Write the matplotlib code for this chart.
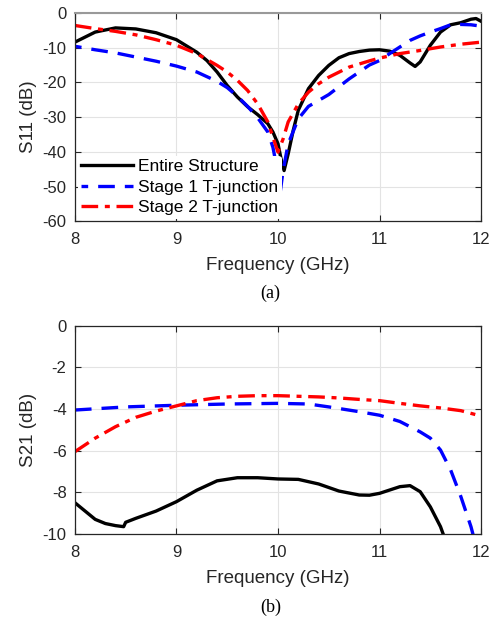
import numpy as np
import matplotlib.pyplot as plt

plt.rcParams['font.family'] = ['Liberation Sans', 'DejaVu Sans']
plt.rcParams['axes.unicode_minus'] = False

# S11 (dB)
f_s11_entire = [8.0, 8.2, 8.4, 8.6, 8.8, 9.0, 9.2, 9.3, 9.4, 9.5, 9.6, 9.7, 9.8, 9.9, 9.95,
                10.0, 10.03, 10.06, 10.1, 10.15, 10.2, 10.3, 10.4, 10.5, 10.6, 10.7, 10.8,
                10.9, 11.0, 11.1, 11.2, 11.3, 11.35, 11.4, 11.5, 11.6, 11.7, 11.8, 11.9,
                11.95, 12.0]
s11_entire = [-8.4, -5.5, -4.3, -4.6, -5.7, -7.7, -11.3, -13.7, -17.0, -20.9, -24.2, -27.0,
              -29.3, -31.9, -34.3, -37.7, -42.0, -45.4, -40.6, -33.8, -28.0, -21.8, -18.0,
              -15.1, -12.9, -11.7, -11.1, -10.7, -10.6, -11.0, -12.2, -14.4, -15.4, -14.1,
              -9.3, -5.5, -3.4, -2.8, -1.8, -1.6, -2.4]

f_s11_stage1 = [8.0, 8.2, 8.4, 8.6, 8.8, 9.0, 9.2, 9.4, 9.5, 9.6, 9.7, 9.8, 9.9, 9.95, 10.0,
                10.02, 10.05, 10.1, 10.2, 10.3, 10.5, 10.7, 10.9, 11.0, 11.1, 11.2, 11.3,
                11.4, 11.5, 11.6, 11.7, 11.8, 11.9, 12.0]
s11_stage1 = [-9.6, -10.6, -11.5, -12.7, -13.9, -15.3, -17.0, -19.7, -21.5, -24.0, -26.9,
              -30.2, -34.3, -38.7, -46.3, -52.0, -45.4, -37.7, -30.5, -26.9, -23.5, -19.0,
              -15.0, -13.7, -11.7, -9.8, -7.9, -6.6, -5.5, -4.5, -3.4, -3.3, -3.4, -3.8]

f_s11_stage2 = [8.0, 8.2, 8.4, 8.6, 8.8, 9.0, 9.2, 9.4, 9.5, 9.6, 9.7, 9.8, 9.9, 9.95, 10.0,
                10.05, 10.1, 10.2, 10.3, 10.4, 10.5, 10.7, 10.9, 11.0, 11.2, 11.4, 11.6,
                11.8, 12.0]
s11_stage2 = [-3.6, -4.5, -5.3, -6.3, -7.7, -9.3, -11.7, -15.1, -17.0, -19.4, -22.3, -26.2,
              -31.4, -35.8, -40.1, -36.3, -31.4, -26.2, -22.8, -20.4, -18.5, -15.6, -13.8,
              -13.0, -11.7, -10.8, -9.8, -9.0, -8.4]

# S21 (dB)
f_s21_entire = [8.0, 8.1, 8.2, 8.3, 8.4, 8.48, 8.5, 8.6, 8.8, 9.0, 9.2, 9.4, 9.6, 9.8, 10.0,
                10.2, 10.4, 10.6, 10.8, 10.9, 11.0, 11.2, 11.3, 11.4, 11.5, 11.6, 11.7]
s21_entire = [-8.5, -8.9, -9.3, -9.5, -9.6, -9.65, -9.44, -9.25, -8.9, -8.45, -7.9, -7.45,
              -7.3, -7.3, -7.36, -7.38, -7.6, -7.94, -8.13, -8.14, -8.05, -7.73, -7.68,
              -7.97, -8.7, -9.65, -11.0]

f_s21_stage1 = [8.0, 8.5, 9.0, 9.5, 10.0, 10.3, 10.5, 10.8, 11.0, 11.2, 11.4, 11.5, 11.6,
                11.7, 11.8, 11.9, 12.0]
s21_stage1 = [-4.05, -3.9, -3.82, -3.76, -3.73, -3.76, -3.9, -4.13, -4.3, -4.6, -5.1, -5.4,
              -5.97, -6.93, -8.2, -9.65, -11.5]

f_s21_stage2 = [8.0, 8.2, 8.4, 8.6, 8.8, 9.0, 9.2, 9.4, 9.6, 9.8, 10.0, 10.2, 10.4, 10.6,
                10.8, 11.0, 11.2, 11.4, 11.6, 11.8, 12.0]
s21_stage2 = [-6.05, -5.4, -4.85, -4.4, -4.1, -3.85, -3.6, -3.46, -3.39, -3.36, -3.36, -3.39,
              -3.42, -3.47, -3.54, -3.6, -3.73, -3.85, -3.95, -4.08, -4.34]

labels = ['Entire Structure', 'Stage 1 T-junction', 'Stage 2 T-junction']
freq_ticks = [8, 9, 10, 11, 12]

fig = plt.figure(figsize=(4.96, 6.18), dpi=100)
ax1 = fig.add_axes([0.151, 0.642, 0.819, 0.337])
ax2 = fig.add_axes([0.151, 0.136, 0.819, 0.337])


def style_axes(ax):
    ax.set_xlim(8, 12)
    ax.set_xticks(freq_ticks)
    ax.grid(True, color='#e3e3e3', linewidth=0.8)
    ax.set_axisbelow(True)
    ax.tick_params(direction='in', top=True, right=True, labelsize=12,
                   colors='#262626', length=4)
    ax.tick_params(axis='x', pad=8)
    ax.tick_params(axis='y', pad=6)
    for s in ax.spines.values():
        s.set_color('#262626')
        s.set_linewidth(0.9)
    ax.set_xlabel('Frequency (GHz)', fontsize=13.5, color='#262626', labelpad=7)


# panel (a)
ax1.plot(f_s11_entire, s11_entire, color='black', lw=2.4, label=labels[0])
ax1.plot(f_s11_stage1, s11_stage1, color='#0000ff', lw=2.4, ls=(3, (5, 3)), label=labels[1])
ax1.plot(f_s11_stage2, s11_stage2, color='#ff0000', lw=2.4, ls=(0, (5, 2, 1.5, 2)), label=labels[2])
style_axes(ax1)
ax1.spines['top'].set_color('#999999')
ax1.spines['top'].set_linewidth(1.5)
ax1.set_ylim(-60, 0)
ax1.set_yticks(range(-60, 1, 10))
ax1.set_ylabel('S11 (dB)', fontsize=13.5, color='#262626', labelpad=4)
leg = ax1.legend(loc='lower left', fontsize=12.5, frameon=True, handlelength=3.0,
                 handletextpad=0.3, borderpad=0.2, labelspacing=0.3,
                 borderaxespad=0.15)
leg.get_frame().set_edgecolor('none')
leg.get_frame().set_facecolor('white')
leg.get_frame().set_alpha(1)
fig.text(0.545, 0.525, '(a)', family='Liberation Serif', fontsize=13, ha='center', va='center')

# panel (b)
ax2.plot(f_s21_entire, s21_entire, color='black', lw=2.4)
ax2.plot(f_s21_stage1, s21_stage1, color='#0000ff', lw=2.4, ls=(0, (5, 3)))
ax2.plot(f_s21_stage2, s21_stage2, color='#ff0000', lw=2.4, ls=(0, (5, 2, 1.5, 2)))
style_axes(ax2)
ax2.set_ylim(-10, 0)
ax2.set_yticks(range(-10, 1, 2))
ax2.set_ylabel('S21 (dB)', fontsize=13.5, color='#262626', labelpad=4)
fig.text(0.545, 0.018, '(b)', family='Liberation Serif', fontsize=13, ha='center', va='center')

fig.savefig('out.png', dpi=100)
